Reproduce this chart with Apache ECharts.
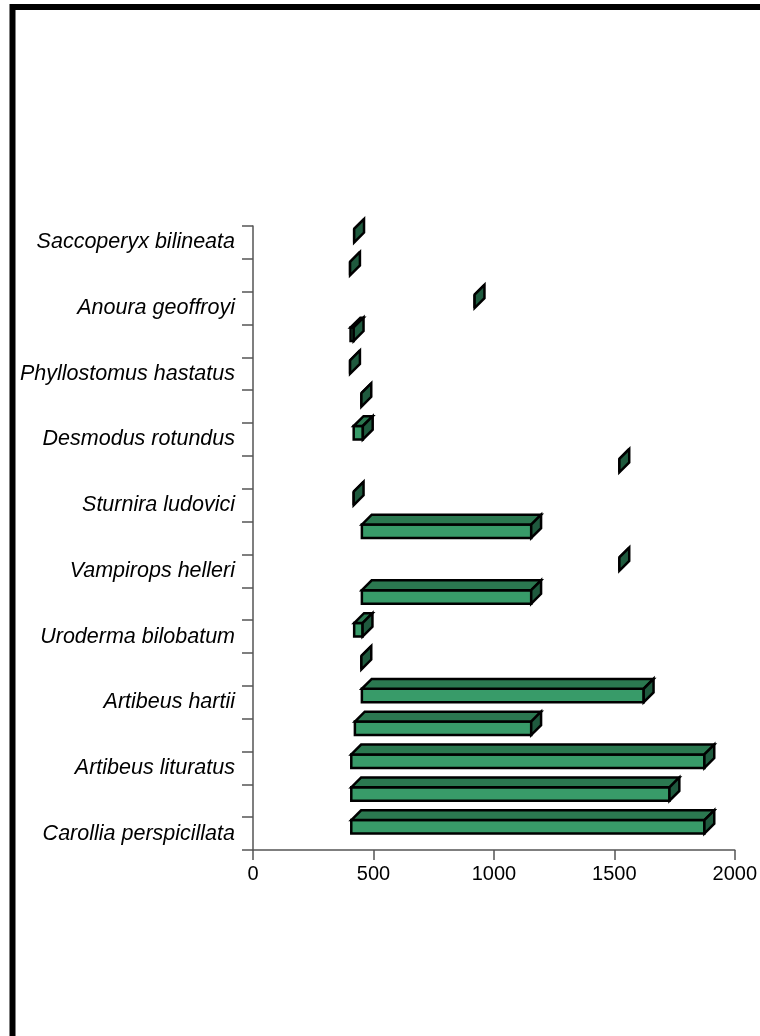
<!DOCTYPE html>
<html>
<head>
<meta charset="utf-8">
<script src="https://cdn.jsdelivr.net/npm/echarts@6/dist/echarts.min.js"></script>
<style>
html,body{margin:0;padding:0;background:#fff;}
#chart{width:760px;height:1036px;}
</style>
</head>
<body>
<div id="chart"></div>
<script>
// Rows from bottom to top; odd rows have no label
const categories = ['Carollia perspicillata', '', 'Artibeus lituratus', '', 'Artibeus hartii', '',
  'Uroderma bilobatum', '', 'Vampirops helleri', '', 'Sturnira ludovici', '', 'Desmodus rotundus', '',
  'Phyllostomus hastatus', '', 'Anoura geoffroyi', '', 'Saccoperyx bilineata'];
const rangeStart = [408, 408, 408, 423, 452, 450, 420, 452, 1521, 452, 418, 1521, 418, 450, 403, 405, 920, 403, 420];
const rangeEnd   = [1874, 1729, 1874, 1155, 1622, 450, 455, 1155, 1521, 1155, 418, 1521, 456, 450, 403, 418, 920, 403, 420];
const xTicks = [0, 500, 1000, 1500, 2000];

const FRONT = '#389b69';
const TOP = '#2b7850';
const SIDE = '#1f5a3e';

const data = categories.map((c, i) => [i, rangeStart[i], rangeEnd[i]]);

function renderItem(params, api) {
  const idx = api.value(0);
  const p0 = api.coord([api.value(1), idx]);
  const p1 = api.coord([api.value(2), idx]);
  const bh = api.size([0, 1])[1];
  const yb = p0[1];
  const yt = yb - 0.41 * bh;
  const d = 0.3 * bh;
  const x0 = p0[0], x1 = p1[0];
  const st = (fill) => ({ fill: fill, stroke: '#000', lineWidth: 2.5 });
  return {
    type: 'group',
    children: [
      { type: 'polygon', shape: { points: [[x0, yt], [x1, yt], [x1, yb], [x0, yb]] }, style: st(FRONT) },
      { type: 'polygon', shape: { points: [[x0, yt], [x0 + d, yt - d], [x1 + d, yt - d], [x1, yt]] }, style: st(TOP) },
      { type: 'polygon', shape: { points: [[x1, yt], [x1 + d, yt - d], [x1 + d, yb - d], [x1, yb]] }, style: st(SIDE) }
    ]
  };
}

const chart = echarts.init(document.getElementById('chart'), null, { renderer: 'canvas' });
chart.setOption({
  backgroundColor: '#fff',
  animation: false,
  grid: { left: 253, right: 25, top: 226, bottom: 186, containLabel: false },
  xAxis: {
    type: 'value',
    min: xTicks[0],
    max: xTicks[xTicks.length - 1],
    interval: xTicks[1] - xTicks[0],
    splitLine: { show: false },
    axisLine: { show: true, lineStyle: { color: '#555', width: 1.5 } },
    axisTick: { show: true, length: 10, lineStyle: { color: '#555', width: 1.5 } },
    axisLabel: { color: '#000', fontSize: 20, fontFamily: 'Liberation Sans, Arial, sans-serif', margin: 14,
      formatter: (v) => String(v) }
  },
  yAxis: {
    type: 'category',
    data: categories,
    boundaryGap: true,
    axisLine: { show: true, lineStyle: { color: '#555', width: 1.5 } },
    axisTick: { show: true, length: 11, interval: 0, lineStyle: { color: '#555', width: 1.5 } },
    axisLabel: { interval: 0, color: '#000', fontSize: 21.5, fontStyle: 'italic', fontFamily: 'Liberation Sans, Arial, sans-serif', margin: 18 },
    splitLine: { show: false }
  },
  graphic: [{
    type: 'rect',
    shape: { x: 12.5, y: 7, width: 800, height: 1100 },
    style: { fill: 'none', stroke: '#000', lineWidth: 6 },
    silent: true
  }],
  series: [{
    type: 'custom',
    renderItem: renderItem,
    clip: false,
    encode: { x: [1, 2], y: 0 },
    data: data
  }]
});
</script>
</body>
</html>
